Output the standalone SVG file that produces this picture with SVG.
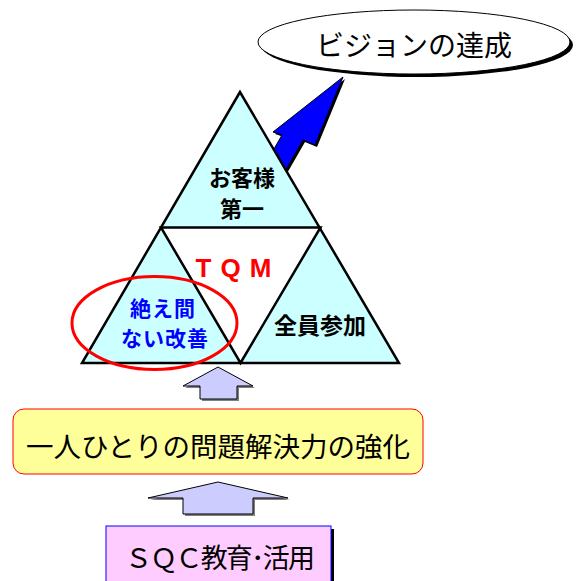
<svg xmlns="http://www.w3.org/2000/svg" width="581" height="581" viewBox="0 0 581 581">
<style>
.jp{font-family:"Noto Sans CJK JP","Noto Sans",sans-serif}
.b{font-weight:bold}
.tri{fill:#ccffff;stroke:#000;stroke-width:2.5;stroke-linejoin:miter}
.up{fill:#ccccff;stroke:#000;stroke-width:1}
.sh{fill:#808080}
</style>
<rect width="581" height="581" fill="#fff"/>
<g id="vision">
<ellipse cx="417" cy="45" rx="156" ry="32" fill="#000"/>
<ellipse cx="414" cy="42" rx="156" ry="32" fill="#fff" stroke="#000" stroke-width="1"/>
<text x="414" y="56" text-anchor="middle" class="jp" font-size="28">ビジョンの達成</text>
</g>
<g id="connectors">
<polygon points="345,79 317,147 305,142 282,182 264,172 284,137 275,134" fill="#000"/>
<polygon points="343,77 315,145 303,140 280,180 262,170 282,135 273,132" fill="#0000ff" stroke="#000" stroke-width="1"/>
<polygon class="sh" points="220,369 255,388 239,388 239,401 202,401 202,388 185,388"/>
<polygon class="up" points="218,367 253,386 237,386 237,399 200,399 200,386 183,386"/>
<polygon class="sh" points="220,484 290,500 255,500 255,516 185,516 185,500 150,500"/>
<polygon class="up" points="218,482 288,498 253,498 253,514 183,514 183,498 148,498"/>
</g>
<g id="tqm">
<polygon class="tri" points="240,92 82,363 399,363"/>
<polygon points="161,227.5 320.5,227.5 240.5,363" fill="#fff" stroke="#000" stroke-width="2.5"/>
<text x="238" y="277" text-anchor="middle" font-family="Liberation Sans,Arial,sans-serif" font-weight="bold" font-size="26" fill="#ff0000" letter-spacing="9">TQM</text>
</g>
<g id="customer">
<text text-anchor="middle" class="jp b" font-size="22"><tspan x="242" y="186">お客様</tspan><tspan x="242" y="217">第一</tspan></text>
</g>
<g id="kaizen">
<text text-anchor="middle" class="jp b" font-size="21" fill="#0000ff" letter-spacing="1"><tspan x="163" y="316">絶え間</tspan><tspan x="165" y="346">ない改善</tspan></text>
<ellipse cx="154.5" cy="323" rx="82.5" ry="46.5" fill="none" stroke="#ff0000" stroke-width="3"/>
</g>
<g id="all">
<text x="320" y="334" text-anchor="middle" class="jp b" font-size="23">全員参加</text>
</g>
<g id="problem">
<rect x="13" y="409" width="410" height="65" rx="11" fill="#ffff99" stroke="#ff0000" stroke-width="1"/>
<text x="218" y="457" text-anchor="middle" class="jp" font-size="27.5">一人ひとりの問題解決力の強化</text>
</g>
<g id="sqc">
<rect x="109" y="529" width="225" height="60" fill="#000"/>
<rect x="106" y="526" width="225" height="60" fill="#ffccff" stroke="#0000ff" stroke-width="1"/>
<text x="125" y="568" class="jp" font-size="27" textLength="190" lengthAdjust="spacing">ＳＱＣ教育･活用</text>
</g>
</svg>
